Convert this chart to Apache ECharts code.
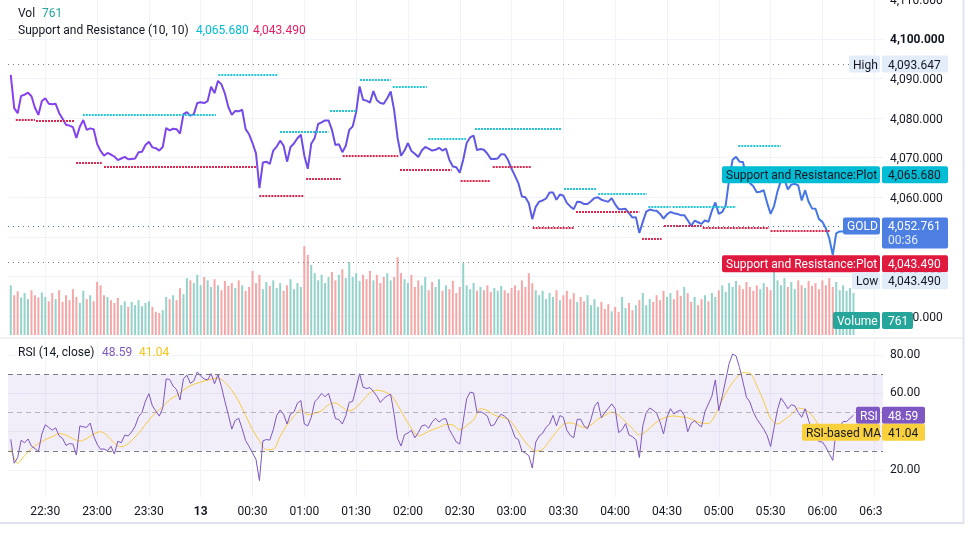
<!DOCTYPE html>
<html>
<head>
<meta charset="utf-8">
<title>GOLD 1m</title>
<script src="https://cdn.jsdelivr.net/npm/echarts@6/dist/echarts.min.js"></script>
<style>
html,body{margin:0;padding:0;background:#fff;}
#main{width:969px;height:534px;}
</style>
</head>
<body>
<div id="main"></div>
<script>
// time axis: minutes after 22:00, samples every 2 min starting 22:10
var startMin = 10
var step = 2

var priceClose = [
  4090.9, 4082.5, 4081.2, 4085.6, 4085.9, 4086.4, 4085.5, 4082.6, 4080.8, 4084.3,
  4085.0, 4083.6, 4083.5, 4083.6, 4081.3, 4079.8, 4078.3, 4078.1, 4077.7, 4075.0,
  4077.8, 4079.5, 4077.0, 4077.4, 4077.2, 4073.5, 4071.7, 4070.5, 4071.2, 4070.8,
  4070.3, 4069.4, 4069.8, 4070.2, 4069.6, 4069.7, 4069.8, 4071.4, 4071.5, 4073.2,
  4074.0, 4072.6, 4072.4, 4071.8, 4072.7, 4077.5, 4076.9, 4077.3, 4077.2, 4076.1,
  4081.0, 4081.5, 4080.6, 4081.0, 4083.8, 4084.0, 4083.8, 4084.3, 4087.9, 4086.3,
  4089.4, 4088.5, 4086.2, 4082.8, 4080.8, 4081.8, 4081.7, 4082.1, 4077.2, 4075.9,
  4073.7, 4071.1, 4062.3, 4068.8, 4069.0, 4068.4, 4071.8, 4072.8, 4074.3, 4073.0,
  4069.0, 4072.7, 4073.6, 4074.9, 4075.8, 4070.5, 4067.2, 4073.5, 4075.0, 4078.5,
  4078.9, 4079.4, 4079.4, 4077.0, 4073.2, 4073.4, 4071.4, 4073.0, 4077.0, 4077.9,
  4081.5, 4088.0, 4084.6, 4084.4, 4083.9, 4086.8, 4084.5, 4083.8, 4083.6, 4085.0,
  4086.7, 4082.0, 4075.0, 4070.5, 4071.8, 4073.7, 4071.7, 4071.0, 4070.2, 4071.8,
  4072.7, 4072.3, 4071.8, 4072.0, 4072.5, 4071.8, 4072.3, 4069.4, 4067.8, 4067.6,
  4066.2, 4069.5, 4073.7, 4075.1, 4075.6, 4071.9, 4072.2, 4072.0, 4071.0, 4069.7,
  4069.7, 4069.8, 4070.9, 4070.8, 4069.4, 4067.2, 4065.4, 4063.5, 4060.2, 4060.0,
  4058.5, 4054.5, 4057.6, 4058.9, 4059.2, 4059.7, 4061.2, 4061.2, 4059.4, 4060.7,
  4060.4, 4058.6, 4057.7, 4057.0, 4058.9, 4058.8, 4058.3, 4058.3, 4059.0, 4059.8,
  4060.0, 4059.4, 4059.1, 4058.9, 4059.8, 4058.2, 4057.0, 4057.0, 4057.1, 4056.0,
  4054.9, 4055.0, 4051.0, 4053.8, 4056.4, 4056.9, 4056.7, 4056.6, 4055.8, 4054.6,
  4055.7, 4056.3, 4056.0, 4055.8, 4055.5, 4055.5, 4054.2, 4052.8, 4054.1, 4053.7,
  4053.3, 4054.2, 4053.8, 4056.6, 4058.7, 4055.8, 4056.3, 4058.0, 4064.5, 4069.5,
  4070.2, 4069.0, 4068.9, 4065.0, 4063.6, 4062.8, 4061.3, 4061.4, 4061.8, 4058.6,
  4055.8, 4057.8, 4061.5, 4064.2, 4064.5, 4062.0, 4063.2, 4063.4, 4063.0, 4059.2,
  4061.8, 4058.9, 4057.2, 4057.1, 4054.5, 4053.8, 4052.2, 4049.6, 4045.4, 4050.9,
  4051.4, 4051.4, 4052.0, 4052.5, 4052.761
]

var volume = [
  900, 720, 790, 680, 760, 650, 810, 720, 680, 770,
  690, 610, 760, 650, 810, 600, 720, 630, 830, 690,
  580, 800, 650, 720, 610, 960, 900, 720, 690, 630,
  580, 670, 540, 610, 510, 600, 540, 630, 520, 580,
  610, 510, 420, 400, 450, 690, 650, 720, 630, 850,
  740, 1030, 990, 940, 1090, 900, 1050, 990, 870, 1010,
  900, 810, 980, 890, 940, 850, 990, 900, 800, 870,
  1160, 940, 1090, 830, 960, 890, 990, 850, 940, 800,
  900, 1010, 830, 940, 870, 1610, 1450, 1270, 1120, 990,
  1090, 940, 1050, 1140, 990, 1090, 1190, 1030, 1320, 1050,
  1120, 980, 1090, 1010, 1160, 990, 1090, 940, 1050, 1120,
  990, 1050, 1410, 1120, 1010, 940, 1090, 870, 990, 900,
  1050, 810, 960, 870, 1010, 800, 900, 830, 980, 760,
  870, 1300, 900, 830, 940, 800, 870, 810, 900, 780,
  850, 800, 890, 810, 760, 850, 900, 810, 990, 870,
  1120, 940, 810, 720, 800, 650, 760, 690, 810, 630,
  720, 800, 650, 760, 600, 690, 610, 720, 540, 650,
  510, 600, 470, 560, 430, 510, 420, 690, 490, 580,
  450, 540, 630, 760, 540, 650, 600, 720, 630, 800,
  690, 760, 650, 810, 710, 870, 760, 600, 690, 540,
  650, 720, 610, 760, 690, 810, 900, 780, 940, 870,
  980, 900, 830, 960, 870, 800, 900, 830, 940, 870,
  810, 1140, 990, 900, 1030, 870, 960, 830, 990, 900,
  850, 980, 890, 940, 830, 990, 900, 1030, 870, 960,
  810, 900, 800, 850, 761
]

var rsiValues = [
  36.0, 23.5, 26.5, 35.5, 34.2, 36.2, 32.4, 31.2, 29.5, 38.8,
  43.6, 42.2, 40.8, 42.0, 37.8, 36.5, 32.8, 33.8, 33.5, 27.8,
  43.0, 42.5, 42.3, 44.5, 37.8, 33.5, 30.8, 31.0, 30.0, 32.4,
  28.3, 35.0, 34.2, 38.2, 37.8, 39.8, 42.8, 47.8, 50.0, 56.0,
  59.8, 53.5, 50.8, 48.1, 52.3, 67.5, 67.3, 63.8, 62.0, 56.5,
  67.5, 69.5, 65.2, 66.5, 71.2, 69.0, 67.5, 67.0, 70.3, 65.0,
  69.8, 63.5, 55.8, 48.8, 41.3, 45.9, 47.0, 41.5, 35.3, 32.3,
  28.9, 25.6, 14.5, 35.2, 35.9, 35.6, 41.0, 48.5, 51.3, 49.0,
  44.0, 49.3, 50.2, 54.9, 56.2, 44.0, 43.0, 47.4, 55.5, 57.5,
  60.0, 58.2, 60.0, 54.0, 46.8, 46.3, 44.0, 48.3, 55.3, 55.8,
  62.8, 70.2, 63.2, 62.5, 63.0, 61.0, 58.5, 55.2, 57.3, 58.7,
  59.5, 49.0, 36.5, 32.5, 38.4, 39.3, 40.7, 36.8, 39.5, 43.0,
  43.5, 41.8, 45.0, 47.0, 45.0, 46.5, 46.8, 41.0, 37.9, 34.6,
  33.6, 45.5, 57.2, 60.6, 60.2, 50.0, 50.4, 49.5, 48.1, 43.0,
  43.6, 47.0, 49.2, 48.0, 46.3, 42.0, 37.0, 35.8, 29.8, 28.8,
  27.5, 21.0, 34.5, 37.8, 39.2, 42.3, 44.0, 48.5, 43.0, 48.4,
  47.4, 40.8, 38.0, 36.8, 46.4, 46.5, 43.0, 41.5, 46.5, 53.2,
  55.5, 47.2, 50.0, 52.2, 54.5, 52.0, 39.5, 41.0, 44.2, 38.3,
  37.4, 35.8, 26.5, 43.0, 50.0, 52.3, 51.2, 49.6, 45.0, 38.8,
  47.5, 52.0, 49.2, 50.6, 51.2, 48.5, 40.0, 44.3, 45.7, 43.8,
  42.5, 50.5, 54.5, 58.5, 67.0, 51.0, 58.3, 67.0, 75.6, 80.5,
  79.5, 73.5, 66.0, 58.0, 55.5, 50.2, 46.7, 44.0, 41.3, 38.0,
  32.2, 42.0, 51.5, 57.5, 55.0, 52.0, 54.0, 53.5, 50.0, 47.5,
  52.0, 46.0, 40.0, 37.8, 34.8, 34.6, 32.0, 28.5, 25.0, 41.5,
  42.7, 45.3, 45.3, 47.0, 48.59
]

// RSI-based MA, one sample every 4 min from 22:10
var maStep = 4
var rsiMa = [
  31.0, 23.5, 27.5, 31.3, 33.8, 35.9, 37.4, 39.0, 38.2, 36.3,
  35.1, 36.4, 38.8, 40.0, 37.8, 34.0, 32.1, 33.7, 37.2, 41.4,
  46.0, 49.9, 53.0, 56.7, 58.8, 61.7, 64.0, 65.3, 66.4, 67.4,
  67.9, 65.7, 61.5, 55.8, 48.5, 41.0, 35.2, 30.6, 30.8, 37.5,
  43.6, 48.0, 51.4, 48.8, 49.6, 50.9, 54.0, 55.0, 52.7, 50.8,
  52.6, 56.6, 60.2, 61.7, 60.9, 59.2, 54.0, 47.5, 41.8, 37.8,
  39.2, 41.0, 42.2, 43.8, 43.5, 41.0, 43.2, 46.2, 52.0, 51.0,
  48.6, 47.6, 46.5, 42.5, 37.0, 32.5, 29.8, 30.8, 35.3, 40.0,
  43.8, 44.6, 43.6, 42.2, 43.5, 46.5, 48.4, 50.2, 48.6, 45.2,
  41.7, 38.3, 40.3, 43.5, 46.2, 47.7, 48.2, 47.7, 47.3, 45.8,
  44.5, 44.3, 48.8, 56.5, 63.0, 67.8, 70.8, 70.5, 64.0, 55.8,
  46.8, 44.0, 46.2, 49.0, 52.3, 51.4, 48.5, 43.3, 40.0, 38.5,
  39.0, 40.2, 41.04
]

// support / resistance levels: [from minute, to minute, price]
var resistance = [
  [51.7, 128.8, 4080.8], [130.2, 164.9, 4090.9], [165.9, 193.9, 4076.5],
  [194.9, 209.9, 4081.8], [212.2, 230.0, 4089.6], [231.2, 250.9, 4087.9],
  [251.8, 273.6, 4074.8], [278.8, 329.0, 4077.3], [330.4, 348.9, 4062.2],
  [350.2, 378.3, 4060.8], [379.2, 392.1, 4057.7], [393.3, 430.0, 4057.5],
  [431.3, 455.9, 4072.9], [457.2, 498.9, 4065.68]
]
var support = [
  [12.9, 24.0, 4079.7], [24.6, 47.2, 4079.2], [47.8, 62.7, 4068.7],
  [64.0, 152.4, 4067.6], [153.9, 180.0, 4060.3], [181.0, 201.1, 4064.7],
  [202.2, 234.4, 4070.4], [235.4, 265.3, 4067.0], [270.5, 287.9, 4064.1],
  [289.1, 311.1, 4067.8], [312.2, 336.2, 4052.2], [337.3, 374.0, 4056.3],
  [375.5, 386.9, 4049.5], [388.3, 410.1, 4052.9], [410.7, 449.2, 4052.2],
  [450.0, 484.4, 4051.6], [485.5, 498.9, 4043.49]
]

var timeTicks = [30, 60, 90, 120, 150, 180, 210, 240, 270, 300, 330, 360, 390, 420, 450, 480, 510]
var priceTicks = [4030, 4040, 4050, 4060, 4070, 4080, 4090, 4100]
var rsiTicks = [20, 40, 60, 80]

var lastPrice = 4052.761
var highPrice = 4093.647
var lowPrice = 4043.49
var lastRes = 4065.68
var lastSup = 4043.49
var lastVol = 761
var lastRsi = 48.59
var lastRsiMa = 41.04
var countdown = '00:36'

var FONT = 'Roboto, "Noto Sans", sans-serif'
var TXT = '#131722'
var GRIDC = '#f0f3fa'
var RES_C = '#22c3d6'
var SUP_C = '#d8284f'
var L = 8, R = 86

function money(v) {
  var p = v.toFixed(3).split('.')
  return p[0].replace(/\B(?=(\d{3})+(?!\d))/g, ',') + '.' + p[1]
}
function clock(t) {
  var h = (22 + Math.floor(t / 60)) % 24, m = t % 60
  if (h === 0 && m === 0) return '{b|13}'
  return (h < 10 ? '0' : '') + h + ':' + (m < 10 ? '0' : '') + m
}

var priceData = priceClose.map(function (v, i) { return [startMin + i * step, v] })
var rsiData = rsiValues.map(function (v, i) { return [startMin + i * step, v] })
var maData = rsiMa.map(function (v, i) { return [startMin + i * maStep, v] })
var volData = volume.map(function (v, i) {
  var up = i === 0 || priceClose[i] >= priceClose[i - 1]
  return { value: [startMin + i * step, v], itemStyle: { color: up ? '#93d3ca' : '#f5a7a8' } }
})

var levelLines = []
resistance.forEach(function (s) {
  levelLines.push([{ coord: [s[0], s[2]], lineStyle: { color: RES_C } }, { coord: [s[1], s[2]] }])
})
support.forEach(function (s) {
  levelLines.push([{ coord: [s[0], s[2]], lineStyle: { color: SUP_C } }, { coord: [s[1], s[2]] }])
})
levelLines.push({ yAxis: highPrice, lineStyle: { color: '#787b86', type: [1, 4], width: 1 } })
levelLines.push({ yAxis: lastPrice, lineStyle: { color: '#3d6fd6', type: [1, 4], width: 1 } })
levelLines.push({ yAxis: lowPrice, lineStyle: { color: '#787b86', type: [1, 4], width: 1 } })

function xAxisOf(grid, showLabels) {
  return {
    type: 'value', gridIndex: grid, min: 8.4, max: 515.09,
    axisLine: { show: false },
    axisTick: { show: false, customValues: timeTicks },
    splitLine: { show: grid !== 1, lineStyle: { color: GRIDC } },
    axisLabel: {
      show: showLabels, customValues: timeTicks, formatter: clock,
      color: TXT, fontSize: 12, fontFamily: FONT, margin: 9,
      rich: { b: { fontWeight: 'bold', fontSize: 12, color: TXT, fontFamily: FONT } }
    }
  }
}

var chart = echarts.init(document.getElementById('main'))
chart.setOption({
  animation: false,
  backgroundColor: '#fff',
  grid: [
    { left: L, right: R, top: 0, height: 335 },
    { left: L, right: R, top: 150, height: 185 },
    { left: L, right: R, top: 341, height: 156 }
  ],
  xAxis: [xAxisOf(0, false), xAxisOf(1, false), xAxisOf(2, true)],
  yAxis: [
    {
      type: 'value', gridIndex: 0, position: 'right', min: 4025.25, max: 4109.8,
      axisLine: { show: false }, axisTick: { show: false, customValues: priceTicks },
      splitLine: { lineStyle: { color: GRIDC } },
      axisLabel: {
        customValues: priceTicks, color: TXT, fontSize: 12, fontFamily: FONT, margin: 7,
        padding: [3, 0, 0, 0],
        formatter: function (v) { return v === 4100 ? '{b|' + money(v) + '}' : money(v) },
        rich: { b: { fontWeight: 'bold', fontSize: 12, color: TXT, fontFamily: FONT } }
      }
    },
    { type: 'value', gridIndex: 1, min: 0, max: 3350, show: false },
    {
      type: 'value', gridIndex: 2, position: 'right', min: 5.91, max: 87.3,
      axisLine: { show: false }, axisTick: { show: false, customValues: rsiTicks },
      splitLine: { lineStyle: { color: GRIDC } },
      axisLabel: {
        customValues: rsiTicks, color: TXT, fontSize: 12, fontFamily: FONT, margin: 7,
        padding: [4, 0, 0, 0],
        formatter: function (v) { return v.toFixed(2) }
      }
    }
  ],
  series: [
    {
      type: 'bar', name: 'Volume', xAxisIndex: 1, yAxisIndex: 1, z: 1,
      barWidth: 2, data: volData
    },
    {
      type: 'line', name: 'GOLD', xAxisIndex: 0, yAxisIndex: 0, z: 4,
      data: priceData, showSymbol: false, symbol: 'none',
      lineStyle: {
        width: 2,
        color: new echarts.graphic.LinearGradient(0, 0, 1, 0, [
          { offset: 0, color: '#8a3ff0' },
          { offset: 0.5, color: '#6552e3' },
          { offset: 1, color: '#3e7de6' }
        ])
      },
      markLine: {
        silent: true, symbol: ['none', 'none'], label: { show: false },
        lineStyle: { width: 2, type: [2, 1] },
        data: levelLines
      }
    },
    {
      type: 'line', name: 'RSI', xAxisIndex: 2, yAxisIndex: 2, z: 4,
      data: rsiData, symbol: 'none', lineStyle: { width: 1, color: '#7e57c2' },
      markArea: {
        silent: true, itemStyle: { color: 'rgba(126,87,194,0.1)' },
        data: [[{ yAxis: 30 }, { yAxis: 70 }]]
      },
      markLine: {
        silent: true, symbol: ['none', 'none'], label: { show: false },
        lineStyle: { color: '#787b86', type: [5, 4], width: 1 },
        data: [{ yAxis: 70 }, { yAxis: 50, lineStyle: { opacity: 0.5 } }, { yAxis: 30 }]
      }
    },
    {
      type: 'line', name: 'RSI-based MA', xAxisIndex: 2, yAxisIndex: 2, z: 3,
      data: maData, symbol: 'none', smooth: 0.3, lineStyle: { width: 1, color: '#f7cb3f' }
    }
  ]
})

// price-scale tags placed at the values' pixel rows
function py(v) { return chart.convertToPixel({ yAxisIndex: 0 }, v) }
function ry(v) { return chart.convertToPixel({ yAxisIndex: 2 }, v) }
var g = []
function box(x, y, w, h, fill) {
  g.push({ type: 'rect', z: 50, shape: { x: x, y: y, width: w, height: h, r: 2 }, style: { fill: fill } })
}
function label(x, y, text, color, align, size, weight) {
  g.push({ type: 'text', z: 51, style: {
    x: x, y: y + 1.5, text: text, fill: color, textAlign: align || 'left', textVerticalAlign: 'middle',
    font: (weight || 'normal') + ' ' + (size || 12) + 'px ' + FONT } })
}
function tag(yc, left, name, value, bg, fg, valueRight) {
  box(left, yc - 8.5, 880 - left, 17, bg)
  label(left + 4, yc, name, fg)
  box(882, yc - 8.5, (valueRight || 948) - 882, 17, bg)
  label(888, yc, value, fg)
}

// frame and pane separator
g.push({ type: 'line', z: 40, shape: { x1: 0, y1: 338, x2: 963, y2: 338 }, style: { stroke: '#e0e3eb', lineWidth: 1 } })
g.push({ type: 'rect', z: 45, shape: { x: 882, y: 498, width: 81, height: 24 }, style: { fill: '#fff' } })
g.push({ type: 'line', z: 46, shape: { x1: 963.5, y1: 0, x2: 963.5, y2: 523 }, style: { stroke: '#e0e3eb', lineWidth: 2 } })
g.push({ type: 'line', z: 46, shape: { x1: 0, y1: 523, x2: 964, y2: 523 }, style: { stroke: '#e0e3eb', lineWidth: 2 } })
// top price-scale label, cut by the window edge
label(890, py(4110), money(4110), TXT)

var yHigh = py(highPrice), yRes = py(lastRes), yGold = py(lastPrice), ySup = py(lastSup) + 1
tag(yHigh, 849, 'High', money(highPrice), '#e3ecf9', TXT)
tag(yRes, 722, 'Support and Resistance:Plot', money(lastRes), '#00bcd4', TXT)
box(843, yGold - 8.5, 37, 17, '#4d7fe3')
label(847, yGold, 'GOLD', '#fff')
box(882, yGold - 8.5, 66, 31, '#4d7fe3')
label(888, yGold, money(lastPrice), '#fff')
label(888, yGold + 13.5, countdown, 'rgba(255,255,255,0.85)')
tag(ySup, 722, 'Support and Resistance:Plot', money(lastSup), '#e0193f', '#fff')
tag(ySup + 17, 852, 'Low', money(lowPrice), '#e3ecf9', TXT)
tag(320.5, 833, 'Volume', String(lastVol), '#26a69a', '#fff', 913)
var yRsi = ry(lastRsi)
tag(yRsi, 856, 'RSI', lastRsi.toFixed(2), '#7e57c2', '#fff', 925)
tag(yRsi + 17, 802, 'RSI-based MA', lastRsiMa.toFixed(2), '#f9d13e', TXT, 925)

// pane legends
label(18, 12, 'Vol', TXT)
label(42, 12, String(lastVol), '#26a69a')
label(18, 29, 'Support and Resistance (10, 10)', TXT)
label(196, 29, money(lastRes), '#00bcd4')
label(253, 29, money(lastSup), '#e91e63')
label(18, 351, 'RSI (14, close)', TXT)
label(102, 351, lastRsi.toFixed(2), '#7e57c2')
label(139, 351, lastRsiMa.toFixed(2), '#f5c518')

chart.setOption({ graphic: g })
</script>
</body>
</html>
